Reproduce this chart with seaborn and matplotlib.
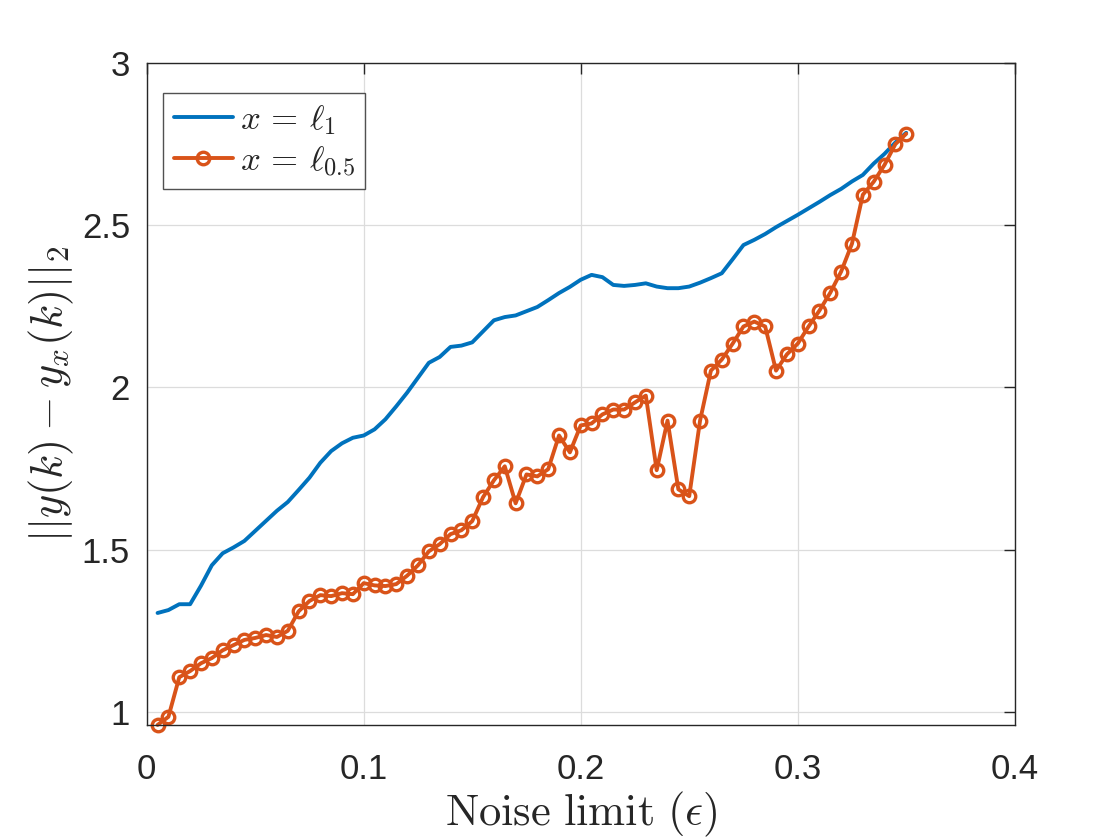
import numpy as np
import pandas as pd
import matplotlib
matplotlib.use("Agg")
import matplotlib.pyplot as plt
import seaborn as sns

# ---- data ----
noise = [round(0.005 * i, 3) for i in range(1, 71)]

l1_err = [1.305, 1.314, 1.332, 1.332, 1.389, 1.452, 1.489, 1.507, 1.527, 1.558,
          1.589, 1.620, 1.647, 1.684, 1.722, 1.768, 1.804, 1.828, 1.845, 1.852,
          1.871, 1.902, 1.942, 1.984, 2.030, 2.076, 2.094, 2.125, 2.129, 2.139,
          2.173, 2.207, 2.217, 2.222, 2.235, 2.248, 2.269, 2.291, 2.310, 2.332,
          2.347, 2.340, 2.316, 2.313, 2.316, 2.321, 2.311, 2.306, 2.306, 2.311,
          2.323, 2.337, 2.352, 2.395, 2.439, 2.455, 2.473, 2.494, 2.513, 2.532,
          2.552, 2.572, 2.593, 2.612, 2.635, 2.655, 2.690, 2.720, 2.755, 2.785]

l05_err = [0.960, 0.985, 1.107, 1.126, 1.150, 1.166, 1.190, 1.206, 1.222, 1.228,
           1.237, 1.231, 1.250, 1.310, 1.342, 1.360, 1.357, 1.366, 1.363, 1.397,
           1.390, 1.388, 1.394, 1.420, 1.452, 1.495, 1.517, 1.548, 1.560, 1.588,
           1.662, 1.714, 1.757, 1.643, 1.732, 1.726, 1.748, 1.852, 1.800, 1.883,
           1.889, 1.917, 1.932, 1.932, 1.954, 1.975, 1.745, 1.898, 1.686, 1.665,
           1.898, 2.052, 2.086, 2.135, 2.188, 2.203, 2.188, 2.052, 2.102, 2.135,
           2.188, 2.237, 2.292, 2.357, 2.443, 2.594, 2.634, 2.686, 2.750, 2.782]

series_labels = [r'$x\,=\,\ell_1$', r'$x\,=\,\ell_{0.5}$']
xticks = [0, 0.1, 0.2, 0.3, 0.4]
yticks = [1, 1.5, 2, 2.5, 3]

df = pd.DataFrame({
    "noise": noise * 2,
    "err": l1_err + l05_err,
    "method": [series_labels[0]] * len(noise) + [series_labels[1]] * len(noise),
})

sns.set_theme(style="white")
plt.rcParams['font.family'] = ['Liberation Sans', 'DejaVu Sans']
plt.rcParams['mathtext.fontset'] = 'cm'

fig = plt.figure(figsize=(11.2, 8.4), dpi=100)
ax = fig.add_axes([0.131, 0.137, 0.775, 0.788])

blue = '#0072BD'
orange = '#D95319'

sns.lineplot(data=df[df.method == series_labels[0]], x="noise", y="err",
             color=blue, lw=2.8, ax=ax, label=series_labels[0])
sns.lineplot(data=df[df.method == series_labels[1]], x="noise", y="err",
             color=orange, lw=2.8, marker='o', markersize=9,
             markerfacecolor='none', markeredgecolor=orange, markeredgewidth=2.4,
             ax=ax, label=series_labels[1], clip_on=False)

ax.set_xlim(0, 0.4)
ax.set_ylim(0.96, 3)
ax.set_xticks(xticks)
ax.set_xticklabels(['0', '0.1', '0.2', '0.3', '0.4'])
ax.set_yticks(yticks)
ax.set_yticklabels(['1', '1.5', '2', '2.5', '3'])

ax.grid(True, color='#dcdcdc', lw=0.9)
ax.set_axisbelow(True)
for s in ax.spines.values():
    s.set_color('#262626')
    s.set_linewidth(1.0)
ax.tick_params(axis='both', direction='in', length=8, width=1.0, colors='#262626',
               labelsize=25, top=True, right=True)
ax.tick_params(axis='x', pad=20)
ax.tick_params(axis='y', pad=12)

ax.set_xlabel(r'$\mathrm{Noise\ limit\ }(\epsilon)$', fontsize=32, color='#262626', labelpad=3)
ax.set_ylabel(r'$||y(k)-y_x(k)||_2$', fontsize=32, color='#262626', labelpad=4)

leg = ax.legend(loc='upper left', bbox_to_anchor=(0.019, 0.955), fontsize=25,
                frameon=True, fancybox=False, edgecolor='#262626',
                handlelength=1.7, handletextpad=0.2, borderpad=0.3,
                labelspacing=0.2, borderaxespad=0)
leg.get_frame().set_linewidth(1.0)

fig.savefig('out.png', dpi=100, facecolor='white')
